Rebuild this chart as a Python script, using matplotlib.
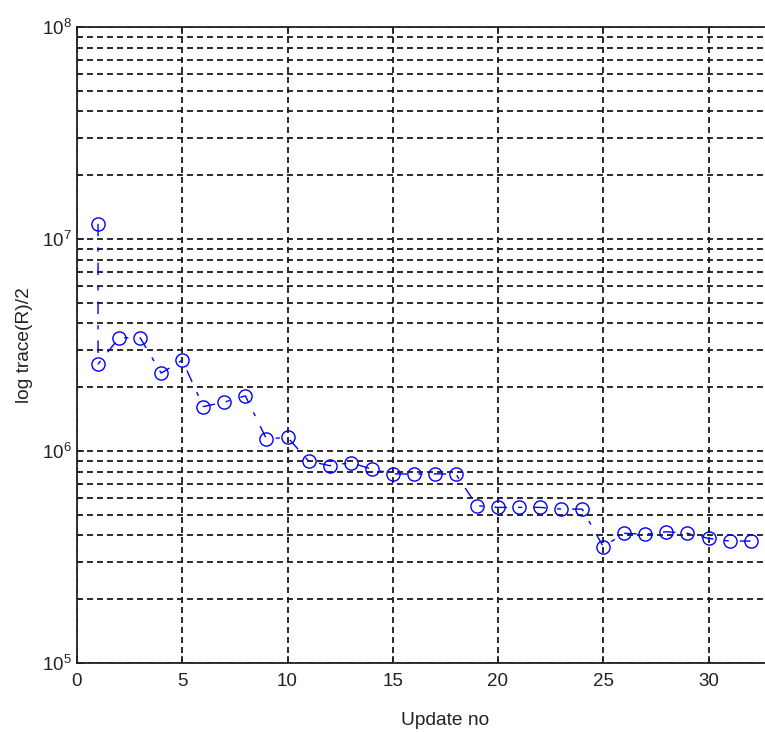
import matplotlib
matplotlib.use("Agg")
import matplotlib.pyplot as plt
from matplotlib.ticker import LogLocator, NullFormatter

plt.rcParams['font.family'] = ['Liberation Sans', 'DejaVu Sans']
plt.rcParams['mathtext.fontset'] = 'custom'
plt.rcParams['mathtext.rm'] = 'Liberation Sans'
plt.rcParams['lines.scale_dashes'] = False

update_no = [1, 1, 2, 3, 4, 5, 6, 7, 8, 9, 10, 11, 12, 13, 14, 15, 16,
             17, 18, 19, 20, 21, 22, 23, 24, 25, 26, 27, 28, 29, 30, 31, 32]
trace_vals = [1.18e7, 2.57e6, 3.42e6, 3.42e6, 2.33e6, 2.68e6, 1.62e6, 1.70e6,
              1.82e6, 1.14e6, 1.16e6, 8.97e5, 8.53e5, 8.81e5, 8.22e5, 7.80e5,
              7.78e5, 7.80e5, 7.78e5, 5.52e5, 5.42e5, 5.42e5, 5.42e5, 5.32e5,
              5.32e5, 3.54e5, 4.09e5, 4.05e5, 4.16e5, 4.09e5, 3.87e5, 3.76e5,
              3.76e5]
x_ticks = [0, 5, 10, 15, 20, 25, 30]

W, H = 765, 732
fig = plt.figure(figsize=(W / 100, H / 100), dpi=100)
left = 77 / W
bottom = (H - 663) / H
height = (663 - 27) / H
width = 35 * 21.05 / W
ax = fig.add_axes([left, bottom, width, height])

ax.plot(update_no, trace_vals, color='#0000ff', linestyle=(0, (9, 8, 3, 8)),
        linewidth=1.0, marker='o', markersize=9.5, markerfacecolor='none',
        markeredgecolor='#0000ff', markeredgewidth=1.0, zorder=3)

ax.set_yscale('log')
ax.set_ylim(1e5, 1e8)
ax.set_xlim(0, 35)
ax.set_xticks(x_ticks)
ax.yaxis.set_major_locator(LogLocator(base=10, numticks=10))
ax.yaxis.set_minor_locator(LogLocator(base=10, subs=range(2, 10), numticks=20))
ax.yaxis.set_minor_formatter(NullFormatter())

grid_style = dict(color='#1a1a1a', linestyle=(0, (4.3, 2.9)), linewidth=1.3)
ax.grid(True, which='major', axis='both', **grid_style)
ax.grid(True, which='minor', axis='y', **grid_style)
ax.set_axisbelow(True)

ax.tick_params(which='both', direction='in', top=True, right=True,
               labelsize=13.5, colors='#222222', labelcolor='#222222')
ax.tick_params(which='major', length=5, width=1.1)
ax.tick_params(which='minor', length=3, width=1.1)
ax.tick_params(axis='x', pad=7)
ax.tick_params(axis='y', pad=4)
for s in ax.spines.values():
    s.set_linewidth(1.3)
    s.set_color('#222222')

ax.set_xlabel('Update no', fontsize=13.8, labelpad=16, color='#222222')
ax.set_ylabel('log trace(R)/2', fontsize=13.8, labelpad=6, color='#222222')

fig.savefig('out.png', dpi=100)
